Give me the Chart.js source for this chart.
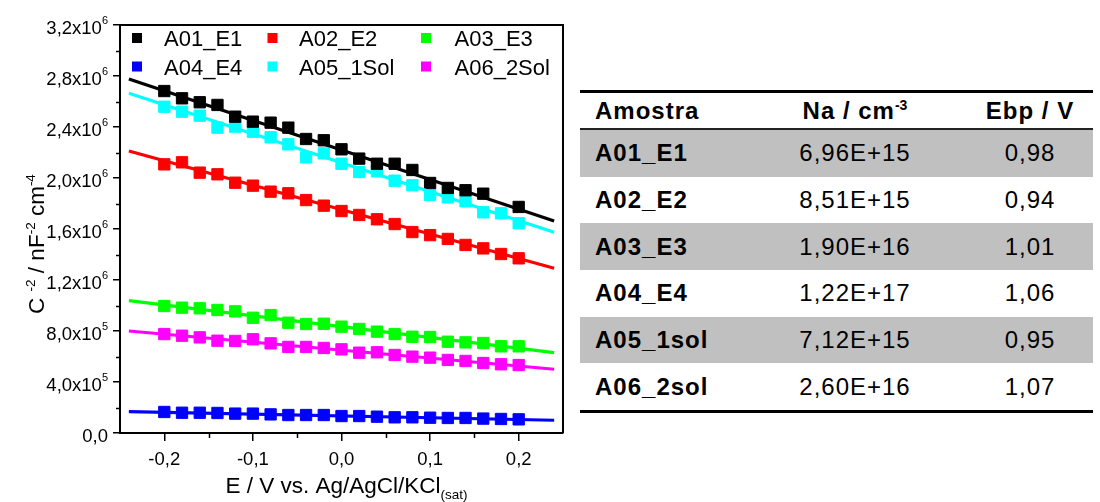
<!DOCTYPE html>
<html>
<head>
<meta charset="utf-8">
<title>Mott-Schottky</title>
<script src="https://cdn.jsdelivr.net/npm/chart.js@4/dist/chart.umd.min.js"></script>
<style>
  body { margin: 0; background: #fff; width: 1100px; height: 502px; overflow: hidden; position: relative;
         font-family: Arial, "Liberation Sans", sans-serif; color: #000; }
  #wrap { position: absolute; left: 0; top: 0; width: 575px; height: 502px; }
  #tbl { position: absolute; left: 580px; top: 90px; width: 513px; border-collapse: collapse; table-layout: fixed;
         font-size: 24px; letter-spacing: 1px; line-height: 1; border-top: 3px solid #000; border-bottom: 3.5px solid #000; }
  #tbl th, #tbl td { padding: 0; text-align: center; }
  #tbl th { height: 35px; border-bottom: 2px solid #222; font-weight: bold; }
  #tbl td { height: 46.7px; }
  #tbl tbody tr:nth-child(odd) { background: #c0c0c0; }
  #tbl th:first-child, #tbl td:first-child { text-align: left; padding-left: 15px; font-weight: bold; }
  #tbl th:last-child, #tbl td:last-child { padding-left: 20px; }
  #tbl sup { font-size: 14px; vertical-align: 9px; line-height: 0; letter-spacing: 0; }
</style>
</head>
<body>
<div id="wrap"><canvas id="chart" width="575" height="502"></canvas></div>
<table id="tbl">
  <colgroup><col style="width:183px"><col style="width:184px"><col style="width:146px"></colgroup>
  <thead><tr><th>Amostra</th><th>Na / cm<sup>-3</sup></th><th>Ebp / V</th></tr></thead>
  <tbody id="rows"></tbody>
</table>
<script>
// potential (V vs Ag/AgCl) of every measured point
const potentials = [-0.20, -0.18, -0.16, -0.14, -0.12, -0.10, -0.08, -0.06, -0.04, -0.02, 0.00,
                    0.02, 0.04, 0.06, 0.08, 0.10, 0.12, 0.14, 0.16, 0.18, 0.20];

// C^-2 values, in units of 10^6 nF^-2 cm^-4
const a01E1 = [2.682, 2.625, 2.594, 2.573, 2.481, 2.442, 2.434, 2.395, 2.306, 2.296, 2.225,
               2.152, 2.112, 2.112, 2.063, 1.961, 1.922, 1.904, 1.877, null, 1.773];
const a02E2 = [2.107, 2.123, 2.042, 2.029, 1.963, 1.940, 1.893, 1.880, 1.827, 1.783, 1.741,
               1.710, 1.676, 1.639, 1.576, 1.552, 1.522, 1.475, 1.448, 1.404, 1.370];
const a03E3 = [0.996, 0.983, 0.978, 0.965, 0.954, 0.904, 0.925, 0.865, 0.855, 0.857, 0.834,
               0.816, 0.795, 0.776, 0.755, 0.753, 0.716, 0.711, 0.706, 0.680, 0.680];
const a04E4 = [0.165, 0.159, 0.159, 0.157, 0.152, 0.152, 0.146, 0.141, 0.141, 0.141, 0.133,
               0.133, 0.128, 0.123, 0.123, 0.120, 0.118, 0.118, 0.113, 0.110, 0.107];
const a05Sol = [2.559, 2.520, 2.489, 2.395, 2.403, 2.363, 2.319, 2.264, 2.162, 2.193, 2.112,
                2.047, 2.052, 1.979, 1.943, 1.867, 1.848, 1.817, 1.731, 1.723, 1.645];
const a06Sol = [0.776, 0.763, 0.750, 0.724, 0.722, 0.735, 0.703, 0.675, 0.675, 0.667, 0.656,
                0.630, 0.633, 0.612, 0.599, 0.591, 0.573, 0.565, 0.549, 0.539, 0.533];

// linear fits, read at both ends of the drawn line
const fitRange = [-0.24, 0.24];
const fit01 = [2.776, 1.663];
const fit02 = [2.212, 1.292];
const fit03 = [1.038, 0.630];
const fit04 = [0.167, 0.100];
const fit05 = [2.664, 1.574];
const fit06 = [0.800, 0.500];

const legendNames = ['A01_E1', 'A02_E2', 'A03_E3', 'A04_E4', 'A05_1Sol', 'A06_2Sol'];
const colors = ['#000000', '#ff0000', '#00ff00', '#0000ff', '#00ffff', '#ff00ff'];

// axis ticks
const xTicks = [-0.2, -0.1, 0.0, 0.1, 0.2];
const xTickText = ['-0,2', '-0,1', '0,0', '0,1', '0,2'];
const yTicks = [0, 0.4, 0.8, 1.2, 1.6, 2.0, 2.4, 2.8, 3.2];
const yTickText = ['0,0', '4,0x10', '8,0x10', '1,2x10', '1,6x10', '2,0x10', '2,4x10', '2,8x10', '3,2x10'];
const yTickExp = ['', '5', '5', '6', '6', '6', '6', '6', '6'];

// table
const samples = ['A01_E1', 'A02_E2', 'A03_E3', 'A04_E4', 'A05_1sol', 'A06_2sol'];
const naValues = ['6,96E+15', '8,51E+15', '1,90E+16', '1,22E+17', '7,12E+15', '2,60E+16'];
const ebpValues = ['0,98', '0,94', '1,01', '1,06', '0,95', '1,07'];

const FAMILY = 'Arial, "Liberation Sans", sans-serif';
const TICK_FONT = '18.5px ' + FAMILY;
const TICK_SUP = '11px ' + FAMILY;
const TITLE_FONT = '22.5px ' + FAMILY;
const TITLE_SMALL = '13.5px ' + FAMILY;
const LEGEND_FONT = '22px ' + FAMILY;

const seriesValues = [a01E1, a02E2, a03E3, a04E4, a05Sol, a06Sol];
const seriesFits = [fit01, fit02, fit03, fit04, fit05, fit06];

const datasets = [];
seriesValues.forEach((vals, i) => {
  datasets.push({
    label: legendNames[i],
    data: potentials.map((x, j) => ({ x: x, y: vals[j] })),
    pointStyle: 'rect',
    pointRadius: 8,
    pointHoverRadius: 8,
    backgroundColor: colors[i],
    borderColor: colors[i],
    borderWidth: 1,
    order: 1
  });
  datasets.push({
    label: legendNames[i] + ' fit',
    data: fitRange.map((x, j) => ({ x: x, y: seriesFits[i][j] })),
    showLine: true,
    pointRadius: 0,
    borderColor: colors[i],
    borderWidth: 3.2,
    fill: false,
    order: 0
  });
});

function richWidth(ctx, parts) {
  let w = 0;
  parts.forEach(p => { ctx.font = p.font; w += ctx.measureText(p.t).width; });
  return w;
}
function drawRich(ctx, parts, x, y) {
  parts.forEach(p => {
    ctx.font = p.font;
    ctx.fillText(p.t, x, y + (p.dy || 0));
    x += ctx.measureText(p.t).width;
  });
}

// frame, minor ticks, tick labels, axis titles and the legend inside the plot
const decor = {
  id: 'decor',
  afterDraw(chart) {
    const ctx = chart.ctx;
    const a = chart.chartArea;
    const xs = chart.scales.x, ys = chart.scales.y;
    ctx.save();
    ctx.strokeStyle = '#000';
    ctx.lineWidth = 2;
    ctx.beginPath();
    ctx.moveTo(a.left, a.top);
    ctx.lineTo(a.right, a.top);
    ctx.lineTo(a.right, a.bottom);
    ctx.stroke();

    ctx.lineWidth = 1.5;
    ctx.beginPath();
    for (let i = 0; i < yTicks.length - 1; i++) {
      const py = Math.round(ys.getPixelForValue((yTicks[i] + yTicks[i + 1]) / 2)) + 0.5;
      ctx.moveTo(a.left - 4, py); ctx.lineTo(a.left, py);
    }
    for (let i = 0; i < xTicks.length - 1; i++) {
      const px = Math.round(xs.getPixelForValue((xTicks[i] + xTicks[i + 1]) / 2)) + 0.5;
      ctx.moveTo(px, a.bottom); ctx.lineTo(px, a.bottom + 5);
    }
    ctx.stroke();

    ctx.fillStyle = '#000';
    ctx.textAlign = 'left';
    ctx.textBaseline = 'alphabetic';
    yTicks.forEach((v, i) => {
      const parts = [{ t: yTickText[i], font: TICK_FONT }];
      if (yTickExp[i]) parts.push({ t: yTickExp[i], font: TICK_SUP, dy: -10 });
      const w = richWidth(ctx, parts);
      drawRich(ctx, parts, a.left - 12 - w, ys.getPixelForValue(v) + 9);
    });
    ctx.font = TICK_FONT;
    xTicks.forEach((v, i) => {
      const w = ctx.measureText(xTickText[i]).width;
      ctx.fillText(xTickText[i], xs.getPixelForValue(v) - w / 2, a.bottom + 32);
    });

    // x title
    const xt = [
      { t: 'E / V vs. Ag/AgCl/KCl', font: TITLE_FONT },
      { t: '(sat)', font: TITLE_SMALL, dy: 6 }
    ];
    const xw = richWidth(ctx, xt);
    drawRich(ctx, xt, (a.left + a.right) / 2 + 5 - xw / 2, 493);

    // y title
    const yt = [
      { t: 'C ', font: TITLE_FONT },
      { t: '-2', font: TITLE_SMALL, dy: -9 },
      { t: ' / nF', font: TITLE_FONT },
      { t: '-2', font: TITLE_SMALL, dy: -9 },
      { t: ' cm', font: TITLE_FONT },
      { t: '-4', font: TITLE_SMALL, dy: -9 }
    ];
    const yw = richWidth(ctx, yt);
    ctx.save();
    ctx.translate(43.5, (a.top + a.bottom) / 2 + 15);
    ctx.rotate(-Math.PI / 2);
    drawRich(ctx, yt, -yw / 2, 0);
    ctx.restore();

    // legend, 3 columns x 2 rows
    const colBox = [17, 152.5, 306];
    const colText = [44, 179, 334.5];
    const rowY = [13, 41.5];
    ctx.font = LEGEND_FONT;
    legendNames.forEach((name, i) => {
      const c = i % 3, r = Math.floor(i / 3);
      const cy = a.top + rowY[r];
      ctx.fillStyle = colors[i];
      ctx.fillRect(a.left + colBox[c] - 5, cy - 5, 10, 10);
      ctx.fillStyle = '#000';
      ctx.fillText(name, a.left + colText[c], cy + 8);
    });
    ctx.restore();
  }
};

Chart.defaults.font.family = FAMILY;

new Chart(document.getElementById('chart'), {
  type: 'scatter',
  data: { datasets: datasets },
  options: {
    responsive: false,
    devicePixelRatio: 1,
    animation: false,
    layout: { padding: { left: 0, top: 25, right: 12, bottom: 0 } },
    plugins: { legend: { display: false }, tooltip: { enabled: false } },
    scales: {
      x: {
        type: 'linear',
        min: -0.25,
        max: 0.25,
        afterBuildTicks: s => { s.ticks = xTicks.map(v => ({ value: v })); },
        afterFit: s => { s.height = 69; },
        ticks: { display: false },
        grid: { drawOnChartArea: false, drawTicks: true, tickLength: 8, color: '#000', lineWidth: 1.5 },
        border: { display: true, color: '#000', width: 2 }
      },
      y: {
        type: 'linear',
        min: 0,
        max: 3.2,
        afterBuildTicks: s => { s.ticks = yTicks.map(v => ({ value: v })); },
        afterFit: s => { s.width = 120; },
        ticks: { display: false },
        grid: { drawOnChartArea: false, drawTicks: true, tickLength: 7, color: '#000', lineWidth: 1.5 },
        border: { display: true, color: '#000', width: 2 }
      }
    }
  },
  plugins: [decor]
});

const tbody = document.getElementById('rows');
samples.forEach((s, i) => {
  const tr = document.createElement('tr');
  [s, naValues[i], ebpValues[i]].forEach(txt => {
    const td = document.createElement('td');
    td.textContent = txt;
    tr.appendChild(td);
  });
  tbody.appendChild(tr);
});
</script>
</body>
</html>
